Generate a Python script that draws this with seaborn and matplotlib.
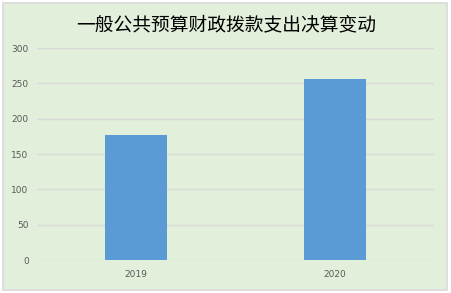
import matplotlib
matplotlib.use("Agg")
import matplotlib.pyplot as plt
import seaborn as sns
import pandas as pd
from matplotlib.patches import Rectangle

years = ["2019", "2020"]
values = [177, 256]
yticks = [0, 50, 100, 150, 200, 250, 300]
title = "一般公共预算财政拨款支出决算变动"

sns.set_style("white")
plt.rcParams['font.family'] = ['Noto Sans CJK SC', 'DejaVu Sans']

bg = "#E2EFDA"
fig = plt.figure(figsize=(4.52, 2.93), dpi=100, facecolor="white")
fig.patches.append(Rectangle((3/452, 3/293), 444/452, 287/293, transform=fig.transFigure,
                             facecolor=bg, edgecolor="#D9D9D9", linewidth=1.2, zorder=-1))
ax = fig.add_axes([37/452, 33/293, 397/452, 212/293])
ax.set_facecolor(bg)
ax.patch.set_alpha(0)

df = pd.DataFrame({"year": years, "value": values})
sns.barplot(data=df, x="year", y="value", color="#5B9BD5", width=0.31, ax=ax,
            zorder=3, saturation=1, edgecolor="none", linewidth=0)

ax.set_xlim(-0.5, 1.5)
ax.set_ylim(0, 300)
ax.set_yticks(yticks)
ax.grid(axis="y", color="#D9D9D9", linewidth=1, zorder=0)
for s in ax.spines.values():
    s.set_visible(False)
ax.tick_params(axis="both", length=0, labelsize=6.5, labelcolor="#595959", pad=6)
ax.tick_params(axis="x", pad=7)
for lab in ax.get_xticklabels() + ax.get_yticklabels():
    lab.set_family("DejaVu Sans")
ax.set_xlabel("")
ax.set_ylabel("")
fig.text(0.5, 1 - 25/293, title, ha="center", va="center", fontsize=13.5, color="#000000")

fig.savefig("out.png", dpi=100, facecolor="white")
